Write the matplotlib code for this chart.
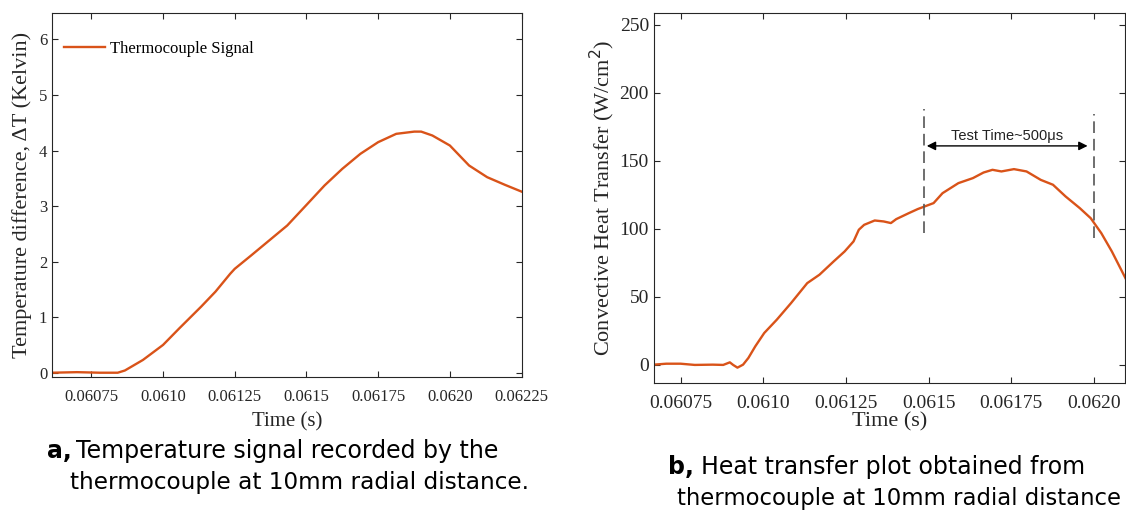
import numpy as np
import matplotlib
matplotlib.use("Agg")
import matplotlib.pyplot as plt

# panel a: thermocouple temperature signal
t_a = [0.060613, 0.06070, 0.06078, 0.060842, 0.060867, 0.06093, 0.06100, 0.061057,
       0.061133, 0.061183, 0.061234, 0.06125, 0.061307, 0.06137, 0.061433, 0.06150,
       0.061563, 0.061625, 0.061688, 0.06175, 0.061813, 0.061876, 0.06190, 0.061939,
       0.06200, 0.062067, 0.06213, 0.062193, 0.06225]
dT_a = [0.0, 0.01, 0.0, 0.0, 0.04, 0.23, 0.50, 0.80,
        1.19, 1.46, 1.78, 1.87, 2.11, 2.38, 2.65, 3.02,
        3.37, 3.67, 3.94, 4.15, 4.30, 4.34, 4.34, 4.27,
        4.09, 3.73, 3.52, 3.38, 3.26]

# panel b: convective heat transfer
t_b = [0.060669, 0.060707, 0.06075, 0.060793, 0.060847, 0.060879, 0.060899, 0.060909,
       0.060922, 0.060939, 0.060955, 0.060976, 0.061003, 0.061041, 0.061084, 0.061133,
       0.06117, 0.061213, 0.061246, 0.061273, 0.061289, 0.061305, 0.061337, 0.061364,
       0.061386, 0.061402, 0.06144, 0.061467, 0.061493, 0.061515, 0.061542, 0.06159,
       0.061634, 0.061666, 0.061693, 0.06172, 0.061758, 0.061796, 0.061839, 0.061876,
       0.061914, 0.061957, 0.06199, 0.062022, 0.062054, 0.062095]
q_b = [0.0, 0.7, 0.7, -0.2, 0.0, -0.2, 1.7, -0.2,
       -2.2, 0.0, 4.9, 13.5, 23.3, 33.1, 45.3, 60.0,
       66.2, 76.0, 83.3, 90.7, 99.3, 102.9, 106.1, 105.4,
       104.2, 107.1, 111.5, 114.5, 116.9, 118.9, 126.2, 133.6,
       137.3, 141.4, 143.4, 142.2, 143.9, 142.2, 136.0, 132.4,
       123.8, 115.2, 107.8, 96.8, 83.3, 63.7]

xticks = [0.06075, 0.0610, 0.06125, 0.0615, 0.06175, 0.0620, 0.06225]
xticklabels = ['0.06075', '0.0610', '0.06125', '0.0615', '0.06175', '0.0620', '0.06225']

test_start, test_end = 0.061486, 0.0620
arrow_y = 161

line_col = '#D95319'
serif = 'Liberation Serif'

fig = plt.figure(figsize=(11.26, 5.11), dpi=100)

# --- panel a ---
ax1 = fig.add_axes([0.0462, 0.263, 0.417, 0.711])
ax1.plot(t_a, dT_a, color=line_col, lw=1.7, label='Thermocouple Signal')
ax1.set_xlim(0.060613, 0.06225)
ax1.set_ylim(-0.07, 6.47)
ax1.set_xticks(xticks)
ax1.set_xticklabels(xticklabels)
ax1.set_yticks(range(0, 7))
ax1.set_xlabel('Time (s)', family=serif, fontsize=15, color='#262626', labelpad=5)
ax1.set_ylabel('Temperature difference, ΔT (Kelvin)', family=serif, fontsize=16,
               color='#262626', labelpad=5)
leg = ax1.legend(loc='upper left', frameon=False, prop={'family': serif, 'size': 12},
                 handlelength=2.5, handletextpad=0.3, borderaxespad=0.3,
                 bbox_to_anchor=(0.0, 0.957))

# --- panel b ---
ax2 = fig.add_axes([0.5806, 0.2505, 0.4186, 0.7235])
ax2.plot(t_b, q_b, color=line_col, lw=1.7)
ax2.set_xlim(0.060669, 0.062094)
ax2.set_ylim(-13.5, 258.6)
ax2.set_xticks(xticks[:-1])
ax2.set_xticklabels(xticklabels[:-1])
ax2.set_yticks(range(0, 251, 50))
ax2.set_xlabel('Time (s)', family=serif, fontsize=16, color='#262626', labelpad=0)
ax2.set_ylabel('Convective Heat Transfer (W/cm$^2$)', family=serif, fontsize=16,
               color='#262626', labelpad=2)
ax2.plot([test_start, test_start], [96.8, 188], ls=(0, (7, 3.5)), color='#555555', lw=1.2)
ax2.plot([test_end, test_end], [93.1, 184.3], ls=(0, (7, 3.5)), color='#555555', lw=1.2)
ax2.annotate('', xy=(test_start, arrow_y), xytext=(0.061989, arrow_y),
             arrowprops=dict(arrowstyle='<|-|>', color='black', lw=1, mutation_scale=13))
ax2.text((test_start + 0.061989) / 2, arrow_y + 2, 'Test Time~500μs', ha='center',
         va='bottom', family='Liberation Sans', fontsize=10.5, color='#222222')

for ax, fs in ((ax1, 12), (ax2, 14)):
    ax.tick_params(direction='in', top=True, right=True, labelsize=fs, colors='#262626',
                   length=4)
    ax.tick_params(axis='x', pad=9)
    for lab in ax.get_xticklabels() + ax.get_yticklabels():
        lab.set_family(serif)
    for s in ax.spines.values():
        s.set_color('#262626')
        s.set_linewidth(0.8)

# captions
cap = dict(family='DejaVu Sans', color='black', va='center')
fig.text(47 / 1126, 1 - 451 / 511, 'a,', weight='bold', fontsize=17, **cap)
fig.text(76 / 1126, 1 - 451 / 511, 'Temperature signal recorded by the', fontsize=17, **cap)
fig.text(70 / 1126, 1 - 482 / 511, 'thermocouple at 10mm radial distance.', fontsize=16.7, **cap)
fig.text(668 / 1126, 1 - 467 / 511, 'b,', weight='bold', fontsize=17, **cap)
fig.text(701 / 1126, 1 - 467 / 511, 'Heat transfer plot obtained from', fontsize=17, **cap)
fig.text(677 / 1126, 1 - 498 / 511, 'thermocouple at 10mm radial distance', fontsize=16.4, **cap)

fig.savefig('out.png', dpi=100)
